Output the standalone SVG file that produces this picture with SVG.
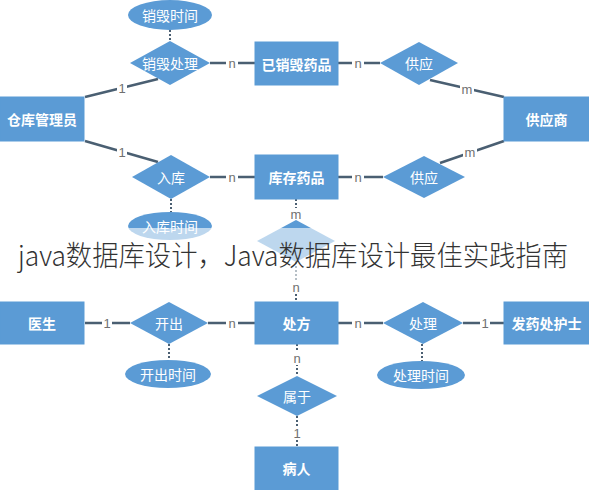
<svg xmlns="http://www.w3.org/2000/svg" width="589" height="490" viewBox="0 0 589 490">
<style>
.ent{fill:#5b9bd5;stroke:#5b9bd5;}
.rel{fill:#5b9bd5;}
.att{fill:#5b9bd5;}
.et{font-family:"Noto Sans CJK SC","Liberation Sans",sans-serif;font-size:14px;font-weight:bold;fill:#fff;text-anchor:middle;dominant-baseline:central;}
.rt{font-family:"Noto Sans CJK SC","Liberation Sans",sans-serif;font-size:14px;fill:#fff;text-anchor:middle;dominant-baseline:central;}
.ln{stroke:#4a5f72;stroke-width:2.5;fill:none;}
.tk{stroke:#4a5f72;stroke-width:2;fill:none;stroke-dasharray:2 2;}
.lb{font-family:"Liberation Sans",sans-serif;font-size:13px;fill:#707070;text-anchor:middle;dominant-baseline:central;}
.bg{fill:#fff;}
</style>
<rect width="589" height="490" fill="#fff"/>
<g id="connectors">
<line class="tk" x1="170" y1="30" x2="170" y2="42"/>
<line class="ln" x1="210" y1="63" x2="255" y2="63"/>
<line class="ln" x1="338" y1="63" x2="380" y2="63"/>
<line class="ln" x1="85" y1="97" x2="158" y2="79"/>
<line class="ln" x1="430" y1="80" x2="504" y2="97"/>
<line class="ln" x1="85" y1="141" x2="158" y2="162"/>
<line class="ln" x1="210" y1="177" x2="255" y2="177"/>
<line class="ln" x1="338" y1="177" x2="383" y2="177"/>
<line class="ln" x1="440" y1="163" x2="504" y2="141"/>
<line class="tk" x1="171" y1="199" x2="171" y2="212"/>
<line class="tk" x1="296" y1="199" x2="296" y2="220"/>
<line class="tk" x1="296" y1="262" x2="296" y2="300"/>
<line class="ln" x1="85" y1="323" x2="130" y2="323"/>
<line class="ln" x1="208" y1="323" x2="255" y2="323"/>
<line class="ln" x1="338" y1="323" x2="383" y2="323"/>
<line class="ln" x1="463" y1="323" x2="504" y2="323"/>
<line class="tk" x1="169" y1="344" x2="169" y2="360"/>
<line class="tk" x1="422" y1="344" x2="422" y2="361"/>
<line class="tk" x1="297" y1="344" x2="297" y2="376"/>
<line class="tk" x1="297" y1="416" x2="297" y2="447"/>
<rect class="bg" x="226" y="56" width="12" height="14"/><text class="lb" x="232" y="63">n</text>
<rect class="bg" x="352" y="56" width="12" height="14"/><text class="lb" x="358" y="63">n</text>
<rect class="bg" x="117" y="82" width="10" height="14"/><text class="lb" x="122" y="88">1</text>
<rect class="bg" x="460" y="82" width="14" height="14"/><text class="lb" x="467" y="89">m</text>
<rect class="bg" x="117" y="145" width="10" height="14"/><text class="lb" x="122" y="152">1</text>
<rect class="bg" x="463" y="145" width="14" height="14"/><text class="lb" x="470" y="152">m</text>
<rect class="bg" x="226" y="170" width="12" height="14"/><text class="lb" x="232" y="177">n</text>
<rect class="bg" x="352" y="170" width="12" height="14"/><text class="lb" x="358" y="177">n</text>
<rect class="bg" x="289" y="208" width="14" height="13"/><text class="lb" x="296" y="214">m</text>
<rect class="bg" x="290" y="281" width="12" height="13"/><text class="lb" x="296" y="287">n</text>
<rect class="bg" x="102" y="316" width="10" height="14"/><text class="lb" x="107" y="323">1</text>
<rect class="bg" x="226" y="316" width="12" height="14"/><text class="lb" x="232" y="323">n</text>
<rect class="bg" x="352" y="316" width="12" height="14"/><text class="lb" x="358" y="323">n</text>
<rect class="bg" x="480" y="316" width="10" height="14"/><text class="lb" x="485" y="323">1</text>
<rect class="bg" x="291" y="352" width="12" height="13"/><text class="lb" x="297" y="358">n</text>
<rect class="bg" x="292" y="426" width="10" height="14"/><text class="lb" x="297" y="433">1</text>
</g>
<g id="attr-xhsj"><ellipse class="att" cx="170" cy="15" rx="42" ry="15"/><text class="rt" x="170" y="15">销毁时间</text></g>
<g id="rel-xhcl"><polygon class="rel" points="130,63 170,41 210,63 170,85"/><text class="rt" x="170" y="63">销毁处理</text></g>
<g id="ent-yxhyp"><rect class="ent" x="255" y="42" width="83" height="43"/><text class="et" x="296.5" y="63.5">已销毁药品</text></g>
<g id="rel-gy1"><polygon class="rel" points="380,63 419,42 458,63 419,85"/><text class="rt" x="419" y="63">供应</text></g>
<g id="ent-ckgly"><rect class="ent" x="0" y="97" width="84" height="44"/><text class="et" x="42" y="119">仓库管理员</text></g>
<g id="ent-gys"><rect class="ent" x="504" y="97" width="85" height="44"/><text class="et" x="546.5" y="119">供应商</text></g>
<g id="rel-rk"><polygon class="rel" points="132,177 171,155 210,177 171,199"/><text class="rt" x="171" y="177">入库</text></g>
<g id="ent-kcyp"><rect class="ent" x="255" y="155" width="83" height="44"/><text class="et" x="296.5" y="177">库存药品</text></g>
<g id="rel-gy2"><polygon class="rel" points="383,177 424,156 465,177 424,198"/><text class="rt" x="424" y="177">供应</text></g>
<g id="attr-rksj"><ellipse class="att" cx="170" cy="226" rx="42" ry="14"/><text class="rt" x="170" y="226">入库时间</text></g>
<g id="rel-mid"><polygon class="rel" points="257,241 296,220 335,241 296,262"/></g>
<g id="ent-ys"><rect class="ent" x="0" y="302" width="84" height="42"/><text class="et" x="42" y="323">医生</text></g>
<g id="rel-kc"><polygon class="rel" points="130,323 169,302 208,323 169,344"/><text class="rt" x="169" y="323">开出</text></g>
<g id="ent-cf"><rect class="ent" x="255" y="302" width="83" height="42"/><text class="et" x="296.5" y="323">处方</text></g>
<g id="rel-cl"><polygon class="rel" points="383,323 423,302 463,323 423,344"/><text class="rt" x="423" y="323">处理</text></g>
<g id="ent-fychs"><rect class="ent" x="504" y="302" width="85" height="42"/><text class="et" x="546.5" y="323">发药处护士</text></g>
<g id="attr-kcsj"><ellipse class="att" cx="168" cy="374" rx="43" ry="14"/><text class="rt" x="168" y="374">开出时间</text></g>
<g id="attr-clsj"><ellipse class="att" cx="421" cy="375" rx="44" ry="14"/><text class="rt" x="421" y="375">处理时间</text></g>
<g id="rel-sy"><polygon class="rel" points="257,396 297,376 337,396 297,416"/><text class="rt" x="297" y="396">属于</text></g>
<g id="ent-br"><rect class="ent" x="255" y="447" width="83" height="45"/><text class="et" x="296.5" y="468">病人</text></g>
<g id="watermark">
<rect x="0" y="228" width="589" height="52" fill="#fff" fill-opacity="0.6"/>
<text x="18" y="266" font-family="'Noto Sans CJK SC','Liberation Sans',sans-serif" font-size="28" font-weight="300" fill="#333" textLength="550" lengthAdjust="spacingAndGlyphs">java数据库设计，Java数据库设计最佳实践指南</text>
</g>
</svg>
